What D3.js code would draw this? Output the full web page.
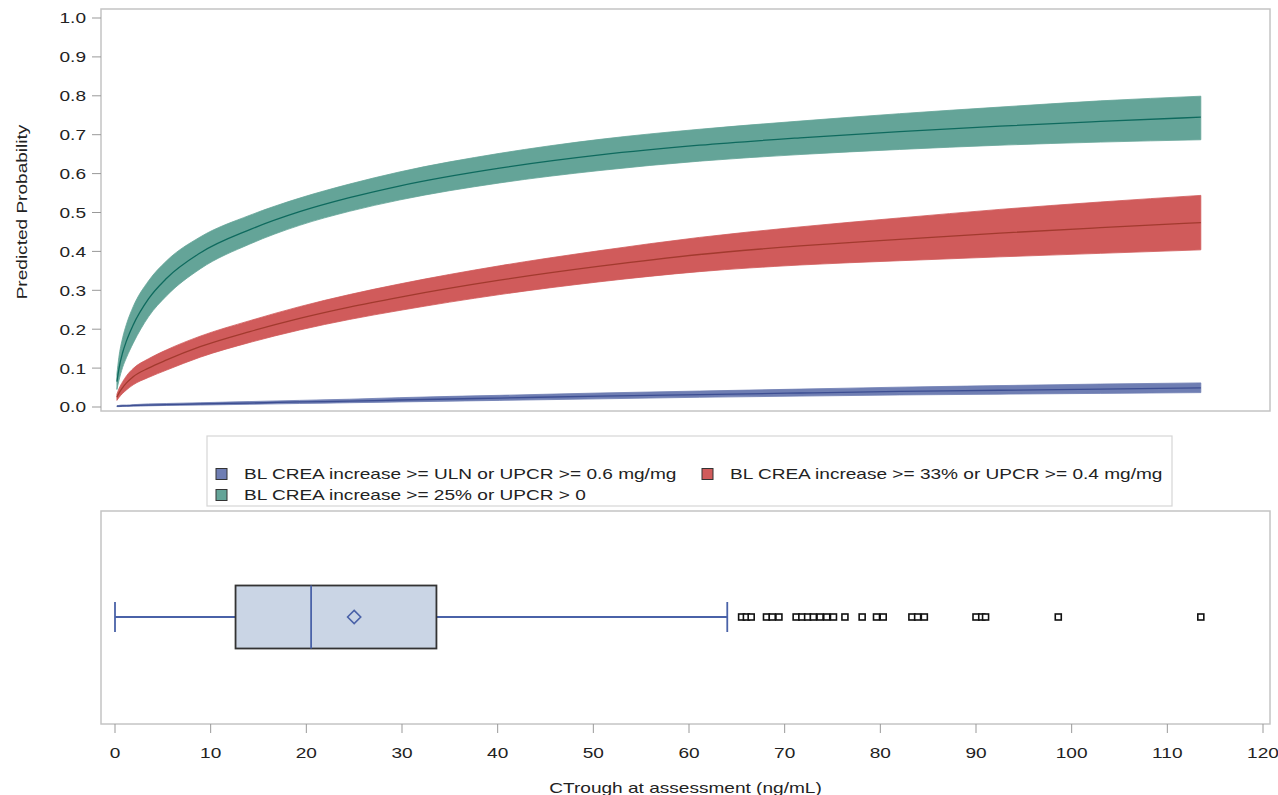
<!DOCTYPE html>
<html>
<head>
<meta charset="utf-8">
<script src="https://cdn.jsdelivr.net/npm/d3@7"></script>
<style>
html,body{margin:0;padding:0;background:#fff;}
svg{display:block;}
text{font-family:"Liberation Sans",Arial,sans-serif;fill:#222;}
</style>
</head>
<body>
<svg id="chart" width="1278" height="795"></svg>
<script>
// ---- data ----
const cTrough = [0.2, 0.4, 0.8, 1.2, 1.9, 3.5, 5.4, 8.9, 14.1, 19.3, 24.5, 29.7, 40.2, 50.7, 61.1, 71.6, 82.0, 92.5, 103.0, 113.5];

const tealMean  = [0.065, 0.097, 0.14, 0.17, 0.211, 0.278, 0.331, 0.396, 0.456, 0.502, 0.538, 0.568, 0.614, 0.648, 0.673, 0.692, 0.708, 0.722, 0.734, 0.745];
const tealLower = [0.045, 0.067, 0.102, 0.127, 0.164, 0.232, 0.286, 0.355, 0.419, 0.467, 0.503, 0.532, 0.576, 0.608, 0.632, 0.649, 0.662, 0.673, 0.681, 0.687];
const tealUpper = [0.085, 0.127, 0.178, 0.213, 0.258, 0.324, 0.376, 0.437, 0.493, 0.537, 0.573, 0.604, 0.652, 0.688, 0.714, 0.735, 0.754, 0.771, 0.787, 0.799];

const redMean  = [0.025, 0.035, 0.05, 0.062, 0.078, 0.10, 0.121, 0.155, 0.194, 0.228, 0.257, 0.282, 0.326, 0.362, 0.392, 0.414, 0.431, 0.447, 0.461, 0.474];
const redLower = [0.017, 0.024, 0.035, 0.044, 0.057, 0.076, 0.095, 0.128, 0.166, 0.198, 0.225, 0.248, 0.289, 0.322, 0.348, 0.365, 0.376, 0.386, 0.395, 0.404];
const redUpper = [0.033, 0.046, 0.065, 0.080, 0.099, 0.124, 0.147, 0.182, 0.222, 0.258, 0.289, 0.316, 0.363, 0.402, 0.436, 0.463, 0.486, 0.508, 0.527, 0.544];

const blueMean  = [0.002, 0.002, 0.003, 0.003, 0.004, 0.005, 0.006, 0.008, 0.010, 0.013, 0.015, 0.018, 0.023, 0.028, 0.032, 0.036, 0.040, 0.043, 0.046, 0.049];
const blueLower = [0.001, 0.001, 0.0015, 0.002, 0.002, 0.003, 0.004, 0.005, 0.007, 0.009, 0.011, 0.013, 0.017, 0.021, 0.025, 0.028, 0.031, 0.033, 0.035, 0.037];
const blueUpper = [0.003, 0.004, 0.005, 0.005, 0.006, 0.008, 0.009, 0.011, 0.014, 0.017, 0.020, 0.024, 0.030, 0.036, 0.041, 0.046, 0.051, 0.055, 0.059, 0.062];

const seriesNames = [
  "BL CREA increase >= ULN or UPCR >= 0.6 mg/mg",
  "BL CREA increase >= 33% or UPCR >= 0.4 mg/mg",
  "BL CREA increase >= 25% or UPCR > 0"
];

// box plot summary of CTrough
const boxMin = 0.0, boxQ1 = 12.6, boxMedian = 20.5, boxQ3 = 33.6, boxMean = 25.0, boxWhiskerHi = 64.0;
const outliers = [65.5, 66.0, 66.5, 68.1, 68.7, 69.4, 71.2, 71.8, 72.4, 73.0, 73.7, 74.4, 75.1, 76.3, 78.1, 79.6, 80.3, 83.3, 83.9, 84.6, 90.0, 90.6, 91.0, 98.6, 113.5];

const xTicks = [0,10,20,30,40,50,60,70,80,90,100,110,120];
const yTicks = [0,0.1,0.2,0.3,0.4,0.5,0.6,0.7,0.8,0.9,1.0];
const xTitle = "CTrough at assessment (ng/mL)";
const yTitle = "Predicted Probability";

// ---- drawing ----
const svg = d3.select("#chart");
const frameL = 101, frameR = 1270;
const x = d3.scaleLinear().domain([0,120]).range([115,1263]);
const y = d3.scaleLinear().domain([0,1]).range([407,18]);

const colors = {
  blue:{fill:"#6F7EB3", line:"#3D4E92"},
  red:{fill:"#D05B5B", line:"#A23A2E"},
  teal:{fill:"#64A498", line:"#0E6A5E"}
};

// top frame
svg.append("rect").attr("x",frameL).attr("y",9).attr("width",frameR-frameL).attr("height",402)
  .attr("fill","none").attr("stroke","#c4c4c4").attr("stroke-width",1.5);

const plot = svg.append("g");
const bands = [
  {m:tealMean,l:tealLower,u:tealUpper,c:colors.teal},
  {m:redMean,l:redLower,u:redUpper,c:colors.red},
  {m:blueMean,l:blueLower,u:blueUpper,c:colors.blue}
];
bands.forEach(s=>{
  const pts = cTrough.map((c,i)=>({c, m:s.m[i], l:s.l[i], u:s.u[i]}));
  const area = d3.area().x(d=>x(d.c)).y0(d=>y(d.l)).y1(d=>y(d.u)).curve(d3.curveMonotoneX);
  const line = d3.line().x(d=>x(d.c)).y(d=>y(d.m)).curve(d3.curveMonotoneX);
  plot.append("path").datum(pts).attr("d",area).attr("fill",s.c.fill).attr("stroke",s.c.fill).attr("stroke-width",0.8);
  plot.append("path").datum(pts).attr("d",line).attr("fill","none").attr("stroke",s.c.line).attr("stroke-width",1.3);
});

// y axis
const yAxis = svg.append("g");
yTicks.forEach(t=>{
  yAxis.append("line").attr("x1",92).attr("x2",frameL).attr("y1",y(t)).attr("y2",y(t)).attr("stroke","#999").attr("stroke-width",1);
  yAxis.append("text").attr("x",86).attr("y",y(t)).attr("dy","0.36em").attr("text-anchor","end")
    .style("font-size","15px").text(d3.format(".1f")(t));
});
svg.append("text").attr("transform","translate(27,212) rotate(-90)").attr("text-anchor","middle")
  .style("font-size","15px").text(yTitle);

// legend
svg.append("rect").attr("x",207).attr("y",436).attr("width",965).attr("height",70)
  .attr("fill","#fff").attr("stroke","#d6d6d6").attr("stroke-width",1.2);
const legendItems = [
  {name:seriesNames[0], c:colors.blue, sx:216, ty:474},
  {name:seriesNames[1], c:colors.red, sx:702, ty:474},
  {name:seriesNames[2], c:colors.teal, sx:216, ty:495}
];
legendItems.forEach(li=>{
  svg.append("rect").attr("x",li.sx).attr("y",li.ty-5.5).attr("width",11).attr("height",11)
    .attr("fill",li.c.fill).attr("stroke","#333").attr("stroke-width",1);
  svg.append("text").attr("x",li.sx+28).attr("y",li.ty).attr("dy","0.36em").style("font-size","15px").text(li.name);
});

// bottom frame
const bTop = 511, bBot = 724;
svg.append("rect").attr("x",frameL).attr("y",bTop).attr("width",frameR-frameL).attr("height",bBot-bTop)
  .attr("fill","none").attr("stroke","#c4c4c4").attr("stroke-width",1.5);

const cy = 617, bh = 31.5, cap = 15;
const boxBlue = "#4A62A8";
const bp = svg.append("g");
bp.append("line").attr("x1",x(boxMin)).attr("x2",x(boxQ1)).attr("y1",cy).attr("y2",cy).attr("stroke",boxBlue).attr("stroke-width",1.8);
bp.append("line").attr("x1",x(boxQ3)).attr("x2",x(boxWhiskerHi)).attr("y1",cy).attr("y2",cy).attr("stroke",boxBlue).attr("stroke-width",1.8);
[boxMin, boxWhiskerHi].forEach(v=>{
  bp.append("line").attr("x1",x(v)).attr("x2",x(v)).attr("y1",cy-cap).attr("y2",cy+cap).attr("stroke",boxBlue).attr("stroke-width",1.8);
});
bp.append("rect").attr("x",x(boxQ1)).attr("y",cy-bh).attr("width",x(boxQ3)-x(boxQ1)).attr("height",2*bh)
  .attr("fill","#CAD5E5").attr("stroke","#333").attr("stroke-width",1.8);
bp.append("line").attr("x1",x(boxMedian)).attr("x2",x(boxMedian)).attr("y1",cy-bh).attr("y2",cy+bh).attr("stroke",boxBlue).attr("stroke-width",1.8);
bp.append("path").attr("d",d3.symbol().type(d3.symbolDiamond2).size(110)).attr("transform",`translate(${x(boxMean)},${cy})`)
  .attr("fill","none").attr("stroke",boxBlue).attr("stroke-width",1.6);
bp.selectAll("rect.out").data(outliers).enter().append("rect").attr("class","out")
  .attr("x",d=>x(d)-3).attr("y",cy-3).attr("width",6).attr("height",6)
  .attr("fill","#fff").attr("stroke","#111").attr("stroke-width",1.6);

// x axis
const xAxis = svg.append("g");
xTicks.forEach(t=>{
  xAxis.append("line").attr("x1",x(t)).attr("x2",x(t)).attr("y1",bBot).attr("y2",bBot+9).attr("stroke","#999").attr("stroke-width",1);
  xAxis.append("text").attr("x",x(t)).attr("y",753).attr("dy","0.36em").attr("text-anchor","middle")
    .style("font-size","15px").text(t);
});
svg.append("text").attr("x",(frameL+frameR)/2).attr("y",788).attr("dy","0.36em").attr("text-anchor","middle")
  .style("font-size","15px").text(xTitle);

// horizontal stretch of all text to match reference proportions
svg.selectAll("text").each(function(){
  const L = this.getComputedTextLength();
  this.setAttribute("textLength", (L*1.27).toFixed(1));
  this.setAttribute("lengthAdjust","spacingAndGlyphs");
});
</script>
</body>
</html>
